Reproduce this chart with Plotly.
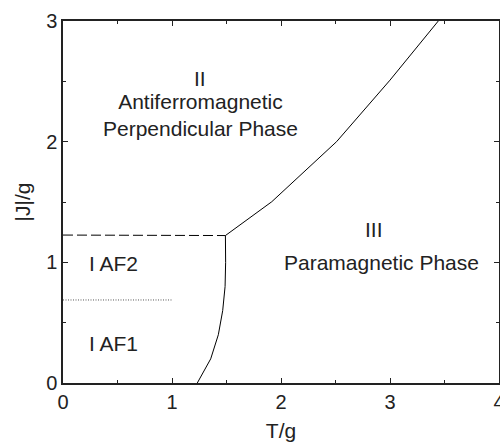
import plotly.graph_objects as go

# Phase boundary (solid)
boundary_T = [1.232, 1.355, 1.425, 1.465, 1.487, 1.492, 1.490, 1.915, 2.51, 3.00, 3.443]
boundary_J = [0.0, 0.2, 0.4, 0.6, 0.8, 1.0, 1.222, 1.502, 2.0, 2.51, 3.0]

# Dashed boundary
dashed_T = [0.0, 1.49]
dashed_J = [1.226, 1.222]

# Dotted boundary
dotted_T = [0.0, 1.0]
dotted_J = [0.688, 0.688]

# Labels
label_text = ["II", "Antiferromagnetic<br>Perpendicular Phase", "III", "Paramagnetic Phase", "I AF2", "I AF1"]
label_T = [1.257, 1.257, 2.853, 2.92, 0.465, 0.465]
label_J = [2.52, 2.22, 1.276, 1.0, 0.99, 0.33]

FONT = "Liberation Sans, Arial, Helvetica, sans-serif"
TXT = "#222222"

fig = go.Figure()
fig.add_trace(go.Scatter(x=boundary_T, y=boundary_J, mode="lines",
                         line=dict(color="black", width=1), showlegend=False))
fig.add_trace(go.Scatter(x=dashed_T, y=dashed_J, mode="lines",
                         line=dict(color="black", width=1, dash="10px,4px"), showlegend=False))
fig.add_trace(go.Scatter(x=dotted_T, y=dotted_J, mode="lines",
                         line=dict(color="#555555", width=1, dash="1px,1.5px"), showlegend=False))

for t, x, y in zip(label_text, label_T, label_J):
    fig.add_annotation(x=x, y=y, text=t, showarrow=False, xanchor="center", yanchor="middle",
                       font=dict(family=FONT, size=21, color=TXT))

axis_common = dict(
    showgrid=False, zeroline=False, showline=True, linecolor="#222222", linewidth=1.5,
    mirror="ticks", ticks="inside", ticklen=5, tickwidth=1, tickcolor="#222222",
    tickfont=dict(family=FONT, size=20, color=TXT), ticklabeloverflow="allow",
    automargin=False,
    minor=dict(ticks="inside", ticklen=3, tickwidth=1, tickcolor="#222222"),
)

fig.update_xaxes(range=[0, 4], dtick=1, tick0=0, **axis_common)
fig.update_xaxes(minor_dtick=0.5, title=dict(text="T/g", font=dict(family=FONT, size=21, color=TXT), standoff=12))
fig.update_yaxes(range=[0, 3], dtick=1, tick0=0, **axis_common)
fig.update_yaxes(minor_dtick=0.5, title=dict(text="|J|/g", font=dict(family=FONT, size=21, color=TXT), standoff=10))

fig.update_layout(
    width=500, height=446,
    margin=dict(l=63, r=1, t=21, b=63, pad=0, autoexpand=False),
    paper_bgcolor="white", plot_bgcolor="white",
    font=dict(family=FONT, color=TXT),
)

fig.write_html("out.html")
